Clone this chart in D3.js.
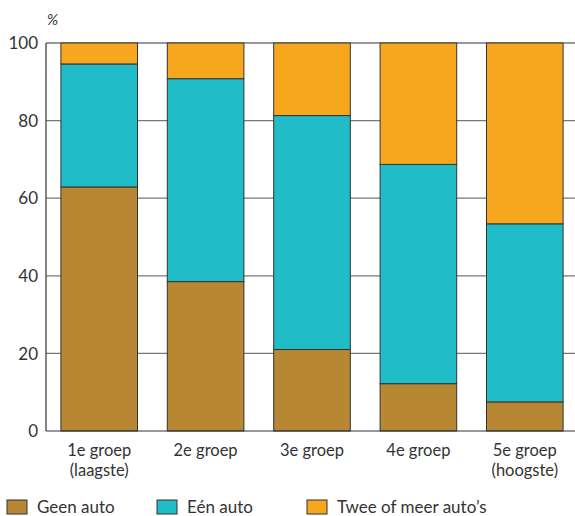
<!DOCTYPE html>
<html><head><meta charset="utf-8">
<script src="https://cdn.jsdelivr.net/npm/d3@7"></script>
<style>body{margin:0;background:#fff}svg{display:block}text{font-family:Lato,"Open Sans",sans-serif;fill:#333}</style>
</head><body><svg id="c" width="575" height="516"></svg>
<script>
const categories = ["1e groep\n(laagste)", "2e groep", "3e groep", "4e groep", "5e groep\n(hoogste)"];
const seriesNames = ["Geen auto", "Eén auto", "Twee of meer auto’s"];
const geenAuto = [62.9, 38.5, 21.0, 12.2, 7.5];
const eenAuto = [31.7, 52.3, 60.3, 56.5, 45.9];
const tweeOfMeer = [5.4, 9.2, 18.7, 31.3, 46.6];
const yTicks = [0, 20, 40, 60, 80, 100];
const colors = ["#B88734", "#20BCC8", "#F7A71E"];

const svg = d3.select("#c");
const x = d3.scaleBand().domain(categories).range([46, 578]).paddingInner(0.28).paddingOuter(0.14);
const y = d3.scaleLinear().domain([0, 100]).range([431, 43]);

// gridlines
svg.append("g").selectAll("line").data(yTicks.filter(d => d > 0)).join("line")
  .attr("x1", 46).attr("x2", 575).attr("y1", d => y(d)).attr("y2", d => y(d))
  .attr("stroke", d => d === 100 ? "#333" : "#777").attr("stroke-width", 1.2);

const table = categories.map((c, i) => ({cat: c, s0: geenAuto[i], s1: eenAuto[i], s2: tweeOfMeer[i]}));
const stacked = d3.stack().keys(["s0", "s1", "s2"])(table);
svg.append("g").selectAll("g").data(stacked).join("g")
  .attr("fill", (d, i) => colors[i])
  .selectAll("rect").data(d => d).join("rect")
  .attr("x", d => x(d.data.cat)).attr("width", x.bandwidth())
  .attr("y", d => y(d[1])).attr("height", d => y(d[0]) - y(d[1]))
  .attr("stroke", "#333").attr("stroke-width", 1);

// axes lines
svg.append("line").attr("x1", 46).attr("x2", 46).attr("y1", 43).attr("y2", 431).attr("stroke", "#333").attr("stroke-width", 1.2);
svg.append("line").attr("x1", 46).attr("x2", 575).attr("y1", 431).attr("y2", 431).attr("stroke", "#333").attr("stroke-width", 1.2);

// y tick labels
svg.append("g").selectAll("text").data(yTicks).join("text")
  .attr("x", 38).attr("y", d => y(d)).attr("dy", "0.36em").attr("text-anchor", "end")
  .attr("font-size", 17).text(d => d);
svg.append("text").attr("x", 47).attr("y", 25).attr("font-size", 15).attr("font-style", "italic").text("%");

// category labels (each line its own text element)
const lines = [];
categories.forEach(c => c.split("\n").forEach((t, i) => lines.push({cat: c, t, i})));
svg.append("g").selectAll("text").data(lines).join("text")
  .attr("x", d => x(d.cat) + x.bandwidth() / 2).attr("y", d => 456 + d.i * 19.5)
  .attr("text-anchor", "middle").attr("font-size", 16.5).text(d => d.t);

// legend
const legX = [7, 157, 307];
const lg = svg.append("g").selectAll("g").data(seriesNames).join("g").attr("transform", (d, i) => `translate(${legX[i]},500)`);
lg.append("rect").attr("width", 20).attr("height", 14).attr("fill", (d, i) => colors[i]).attr("stroke", "#333").attr("stroke-width", 1);
lg.append("text").attr("x", 30).attr("y", 13).attr("font-size", 17).text(d => d);
</script></body></html>
